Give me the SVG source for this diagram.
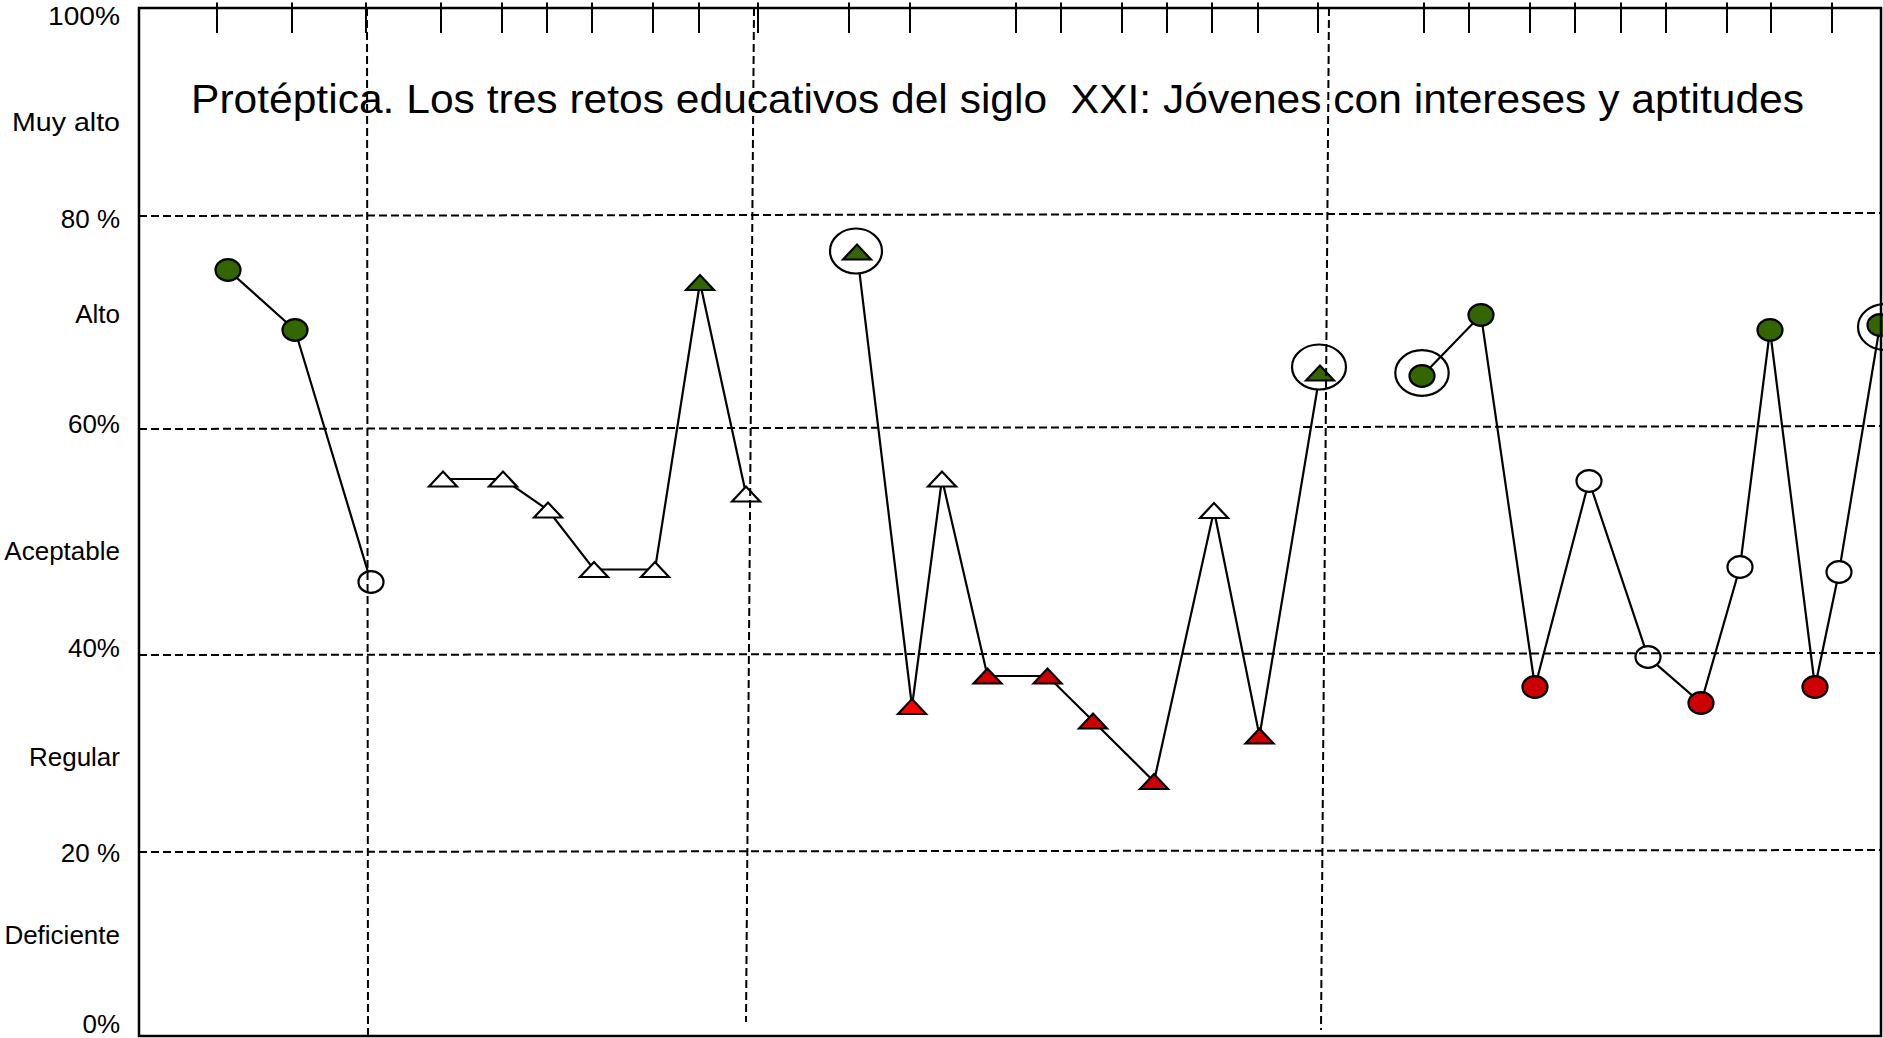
<svg xmlns="http://www.w3.org/2000/svg" width="1883" height="1038" viewBox="0 0 1883 1038">
<style>
.bg{fill:#fff}
.frame{fill:none;stroke:#000;stroke-width:2.5}
.tick{stroke:#000;stroke-width:2}
.grid{fill:none;stroke:#000;stroke-width:2;stroke-dasharray:8 4}
.conn{fill:none;stroke:#000;stroke-width:2.2;stroke-linejoin:miter}
.mk{stroke:#000;stroke-width:2.2}
.g{fill:#336600}
.r{fill:#CC0000}
.rb{fill:#FF0000}
.w{fill:#fff}
.hl{stroke:#000;stroke-width:2.2}
.hlw{fill:#fff}
.hln{fill:none}
.lbl{font-family:"Liberation Sans",Arial,sans-serif;font-size:26px;text-anchor:end;fill:#000}
.title{font-family:"Liberation Sans",Arial,sans-serif;font-size:40px;fill:#000;white-space:pre}
</style>
<defs>
<path id="tri" d="M-14,7.5 L0,-7.5 L14,7.5 Z"/>
<ellipse id="dot" cx="0" cy="0" rx="12.5" ry="10.8"/>
</defs>
<rect class="bg" x="0" y="0" width="1883" height="1038"/>

<g id="connectors">
<polyline class="conn" points="228,270 295,330 371,582"/>
<polyline class="conn" points="443,479 503,479 548,510 594,569.5 655,569.5 700,282.5 746,494"/>
<polyline class="conn" points="857,252 912,706.5 942,479 987.5,676 1047.5,676 1093,721 1154,781.5 1214,510.5 1259.5,736 1320,373"/>
<polyline class="conn" points="1422,376 1481,315 1535,687 1589,481 1648,657 1701,703 1740,567 1770,330 1815,687 1839,572 1880,325"/>
</g>

<g id="c1"><use href="#dot" class="mk g" x="228" y="270"/></g>
<g id="c2"><use href="#dot" class="mk g" x="295" y="330"/></g>
<g id="c3"><use href="#dot" class="mk w" x="371" y="582"/></g>

<g id="t1"><use href="#tri" class="mk w" x="443" y="479"/></g>
<g id="t2"><use href="#tri" class="mk w" x="503" y="479"/></g>
<g id="t3"><use href="#tri" class="mk w" x="548" y="510"/></g>
<g id="t4"><use href="#tri" class="mk w" x="594" y="569.5"/></g>
<g id="t5"><use href="#tri" class="mk w" x="655" y="569.5"/></g>
<g id="t6"><use href="#tri" class="mk g" x="700" y="282.5"/></g>
<g id="t7"><use href="#tri" class="mk w" x="746" y="494"/></g>

<g id="s1"><ellipse class="hl hlw" cx="856" cy="251" rx="26" ry="22.5"/><use href="#tri" class="mk g" x="857" y="252"/></g>
<g id="s2"><use href="#tri" class="mk rb" x="912" y="706.5"/></g>
<g id="s3"><use href="#tri" class="mk w" x="942" y="479"/></g>
<g id="s4"><use href="#tri" class="mk r" x="987.5" y="676"/></g>
<g id="s5"><use href="#tri" class="mk r" x="1047.5" y="676"/></g>
<g id="s6"><use href="#tri" class="mk r" x="1093" y="721"/></g>
<g id="s7"><use href="#tri" class="mk r" x="1154" y="781.5"/></g>
<g id="s8"><use href="#tri" class="mk w" x="1214" y="510.5"/></g>
<g id="s9"><use href="#tri" class="mk r" x="1259.5" y="736"/></g>
<g id="s10"><ellipse class="hl hlw" cx="1319" cy="367" rx="27" ry="22.5"/><use href="#tri" class="mk g" x="1320" y="373"/></g>

<g id="p1"><ellipse class="hl hln" cx="1422" cy="373" rx="26.7" ry="22.8"/><use href="#dot" class="mk g" x="1422" y="376"/></g>
<g id="p2"><use href="#dot" class="mk g" x="1481" y="315"/></g>
<g id="p3"><use href="#dot" class="mk r" x="1535" y="687"/></g>
<g id="p4"><use href="#dot" class="mk w" x="1589" y="481"/></g>
<g id="p5"><use href="#dot" class="mk w" x="1648" y="657"/></g>
<g id="p6"><use href="#dot" class="mk r" x="1701" y="703"/></g>
<g id="p7"><use href="#dot" class="mk w" x="1740" y="567"/></g>
<g id="p8"><use href="#dot" class="mk g" x="1770" y="330"/></g>
<g id="p9"><use href="#dot" class="mk r" x="1815" y="687"/></g>
<g id="p10"><use href="#dot" class="mk w" x="1839" y="572"/></g>
<g id="p11"><ellipse class="hl hln" cx="1885" cy="327" rx="27" ry="23"/><use href="#dot" class="mk g" x="1880" y="325"/></g>

<g id="title">
<text class="title" x="191" y="113" textLength="1613" lengthAdjust="spacingAndGlyphs" xml:space="preserve">Protéptica. Los tres retos educativos del siglo  XXI: Jóvenes con intereses y aptitudes</text>
</g>

<g id="gridlines">
<line class="grid" x1="139" y1="216" x2="1881" y2="213"/>
<line class="grid" x1="139" y1="429" x2="1881" y2="426"/>
<line class="grid" x1="139" y1="655" x2="1881" y2="653"/>
<line class="grid" x1="139" y1="852" x2="1881" y2="850"/>
<line class="grid" x1="367" y1="8" x2="368" y2="1036"/>
<line class="grid" x1="754" y1="8" x2="746" y2="1022"/>
<line class="grid" x1="1329" y1="8" x2="1321" y2="1030"/>
</g>

<g id="axes">
<rect class="frame" x="139" y="8" width="1742" height="1028"/>
<path class="tick" d="M217,2.5V33 M292,2.5V33 M366,2.5V33 M441,2.5V33 M502,2.5V33 M547,2.5V33 M592,2.5V33 M653,2.5V33 M699,2.5V33 M758,2.5V33 M849,2.5V33 M910,2.5V33 M1016,2.5V33 M1061,2.5V33 M1122,2.5V33 M1167,2.5V33 M1212,2.5V33 M1258,2.5V33 M1318,2.5V33 M1424,2.5V33 M1469,2.5V33 M1530,2.5V33 M1575,2.5V33 M1621,2.5V33 M1666,2.5V33 M1727,2.5V33 M1771,2.5V33 M1832,2.5V33"/>
</g>

<g id="labels">
<text class="lbl" x="120" y="25" textLength="72" lengthAdjust="spacingAndGlyphs">100%</text>
<text class="lbl" x="120" y="131" textLength="108" lengthAdjust="spacingAndGlyphs">Muy alto</text>
<text class="lbl" x="120" y="228">80 %</text>
<text class="lbl" x="120" y="323">Alto</text>
<text class="lbl" x="120" y="433">60%</text>
<text class="lbl" x="120" y="560">Aceptable</text>
<text class="lbl" x="120" y="657">40%</text>
<text class="lbl" x="120" y="766">Regular</text>
<text class="lbl" x="120" y="862">20 %</text>
<text class="lbl" x="120" y="944">Deficiente</text>
<text class="lbl" x="120" y="1033">0%</text>
</g>
</svg>
